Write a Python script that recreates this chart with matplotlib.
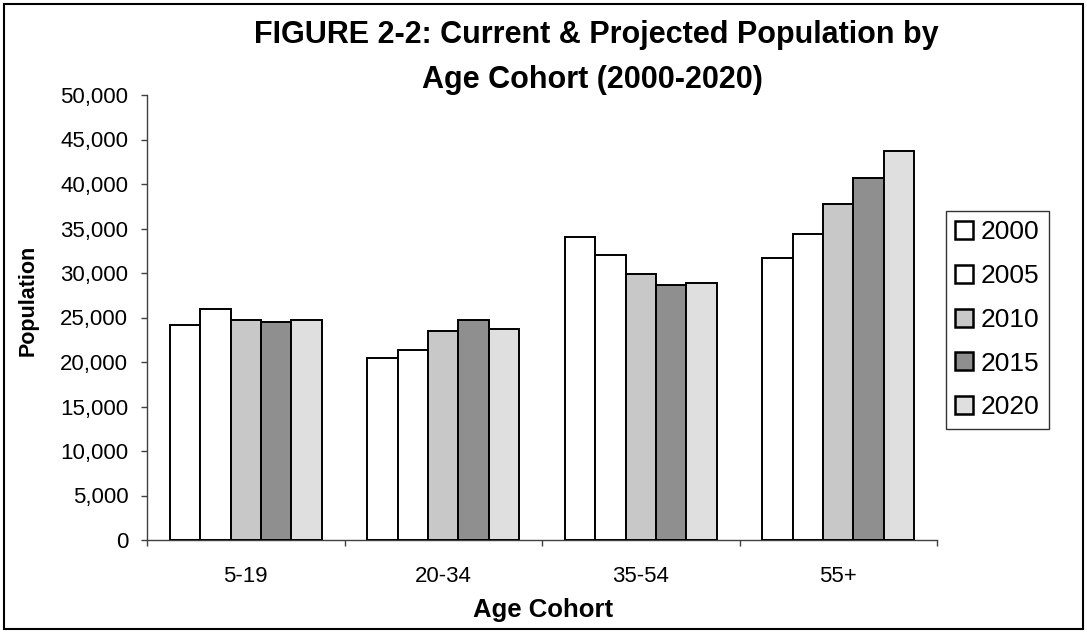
import matplotlib
matplotlib.use("Agg")
import matplotlib.pyplot as plt
from matplotlib.patches import Rectangle
from matplotlib.ticker import FuncFormatter, FixedLocator
import numpy as np

plt.rcParams['font.family'] = ['Liberation Sans', 'DejaVu Sans']

categories = ["5-19", "20-34", "35-54", "55+"]
years = ["2000", "2005", "2010", "2015", "2020"]
values = {
    "2000": [24200, 20400, 34100, 31650],
    "2005": [25900, 21400, 32050, 34400],
    "2010": [24700, 23450, 29850, 37800],
    "2015": [24450, 24700, 28600, 40650],
    "2020": [24700, 23700, 28900, 43700],
}
colors = ["#FFFFFF", "#FFFFFF", "#C8C8C8", "#8F8F8F", "#DFDFDF"]

W, H = 1087, 633
fig = plt.figure(figsize=(W / 100, H / 100), dpi=100)
ax = fig.add_axes([147 / W, 1 - 540 / H, (937 - 147) / W, (540 - 95) / H])

def fx(px):
    return px / W

def fy(py):
    return 1 - py / H

n = len(years)
bw = 1 / (n + 1.5)
x = np.arange(len(categories))
for i, y in enumerate(years):
    ax.bar(x + (i - (n - 1) / 2) * bw, values[y], width=bw, color=colors[i],
           edgecolor="black", linewidth=1.4, label=y, zorder=3)

ax.set_xlim(-0.5, len(categories) - 0.5)
ax.set_ylim(0, 50000)
ax.set_yticks(np.arange(0, 50001, 5000))
ax.yaxis.set_major_formatter(FuncFormatter(lambda v, p: f"{int(v):,}"))
ax.set_xticks(x)
ax.set_xticklabels(categories)
ax.xaxis.set_minor_locator(FixedLocator(np.arange(-0.5, len(categories), 1.0)))
ax.tick_params(axis="x", which="major", length=0, labelsize=16, pad=18.5)
ax.tick_params(axis="x", which="minor", length=4.5, width=1, color="#404040", direction="out")
ax.tick_params(axis="y", length=4.5, width=1, color="#404040", labelsize=16, pad=9)
for s in ["top", "right"]:
    ax.spines[s].set_visible(False)
for s in ["left", "bottom"]:
    ax.spines[s].set_color("#404040")
    ax.spines[s].set_linewidth(1)

fig.text(fx(543), fy(617), "Age Cohort", ha="center", va="baseline",
         fontsize=18.5, fontweight="bold")
fig.text(fx(34), fy(300), "Population", ha="center", va="baseline", rotation=90,
         fontsize=15.5, fontweight="bold", rotation_mode="anchor")

fig.text(fx(596), fy(43), "FIGURE 2-2: Current & Projected Population by",
         ha="center", va="baseline", fontsize=22, fontweight="bold")
fig.text(fx(592), fy(88), "Age Cohort (2000-2020)",
         ha="center", va="baseline", fontsize=22, fontweight="bold")

leg = ax.legend(loc="upper left", bbox_to_anchor=(fx(946), fy(211)), bbox_transform=fig.transFigure,
                frameon=True, fancybox=False, edgecolor="black", fontsize=19,
                handlelength=0.68, handleheight=0.68, handletextpad=0.3, labelspacing=0.75,
                borderpad=0.35, borderaxespad=0)
leg.get_frame().set_linewidth(1)
for h in leg.legend_handles:
    h.set_linewidth(1.8)

fig.patches.append(Rectangle((fx(4), fy(629)), fx(1083) - fx(4), fy(4) - fy(629), transform=fig.transFigure,
                             fill=False, edgecolor="black", linewidth=1.5))

fig.savefig("out.png", dpi=100)
